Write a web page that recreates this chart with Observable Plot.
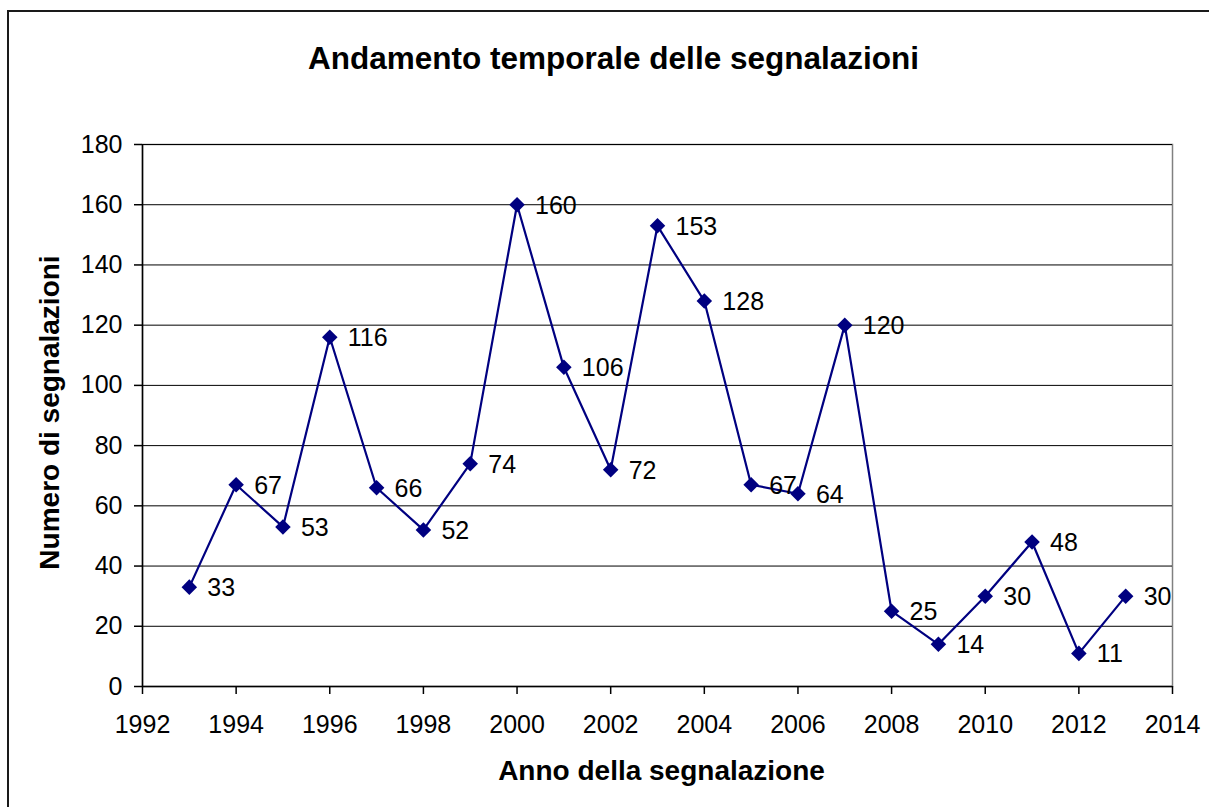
<!DOCTYPE html>
<html>
<head>
<meta charset="utf-8">
<script src="https://cdn.jsdelivr.net/npm/d3@7"></script>
<script src="https://cdn.jsdelivr.net/npm/@observablehq/plot@0.6"></script>
<style>
  html, body { margin: 0; padding: 0; background: #fff; }
  #wrap { position: relative; width: 1209px; height: 807px; overflow: hidden; }
  #border { position: absolute; left: 7px; top: 10px; width: 1400px; height: 1000px;
            border-left: 2px solid #1a1a1a; border-top: 2px solid #1a1a1a; pointer-events: none; }
  #chart { position: absolute; left: 0; top: 0; }
</style>
</head>
<body>
<div id="wrap"><div id="chart"></div><div id="border"></div></div>
<script>
const years  = [1993, 1994, 1995, 1996, 1997, 1998, 1999, 2000, 2001, 2002, 2003, 2004, 2005, 2006, 2007, 2008, 2009, 2010, 2011, 2012, 2013];
const counts = [33, 67, 53, 116, 66, 52, 74, 160, 106, 72, 153, 128, 67, 64, 120, 25, 14, 30, 48, 11, 30];
const xTicks = [1992, 1994, 1996, 1998, 2000, 2002, 2004, 2006, 2008, 2010, 2012, 2014];
const yTicks = [0, 20, 40, 60, 80, 100, 120, 140, 160, 180];
const titleText = "Andamento temporale delle segnalazioni";
const xTitle = "Anno della segnalazione";
const yTitle = "Numero di segnalazioni";

const data = years.map((y, i) => ({year: y, value: counts[i]}));
const navy = "#000080";

const chart = Plot.plot({
  width: 1209,
  height: 807,
  marginLeft: 142,
  marginRight: 37,
  marginTop: 144,
  marginBottom: 121,
  style: {fontFamily: "'Liberation Sans', Arial, sans-serif", background: "transparent", color: "#000", overflow: "visible"},
  x: {domain: [1992, 2014]},
  y: {domain: [0, 180]},
  marks: [
    Plot.frame({stroke: "#808080", strokeWidth: 1.5}),
    Plot.gridY(yTicks.filter(d => d > 0), {stroke: "#000", strokeOpacity: 1, strokeWidth: 1}),
    Plot.ruleY([0], {stroke: "#000", strokeWidth: 1.5}),
    Plot.ruleX([1992], {stroke: "#000", strokeWidth: 1.5}),
    Plot.axisX({ticks: xTicks, tickFormat: "d", tickSize: 8, tickPadding: 21, fontSize: 25, label: null, strokeWidth: 1.5}),
    Plot.axisY({ticks: yTicks, tickSize: 8, tickPadding: 12, fontSize: 25, label: null, strokeWidth: 1.5}),
    Plot.line(data, {x: "year", y: "value", stroke: navy, strokeWidth: 2.2}),
    Plot.dot(data, {x: "year", y: "value", symbol: "diamond2", fill: navy, stroke: "none", r: 7}),
    Plot.text(data, {x: "year", y: "value", text: d => String(d.value), dx: 18, dy: 1, textAnchor: "start", fontSize: 25, fill: "#000"}),
    Plot.text([titleText], {text: d => d, frameAnchor: "top", textAnchor: "middle", dx: -44, dy: -86, lineAnchor: "middle", fontSize: 31.5, fontWeight: "bold", fill: "#000"}),
    Plot.text([xTitle], {text: d => d, frameAnchor: "bottom", textAnchor: "middle", dx: 4, dy: 85, lineAnchor: "middle", fontSize: 28, fontWeight: "bold", fill: "#000"}),
    Plot.text([yTitle], {text: d => d, frameAnchor: "left", textAnchor: "middle", dx: -92, dy: -3, rotate: -90, lineAnchor: "middle", fontSize: 28, fontWeight: "bold", fill: "#000"})
  ]
});
document.getElementById("chart").appendChild(chart);
</script>
</body>
</html>
